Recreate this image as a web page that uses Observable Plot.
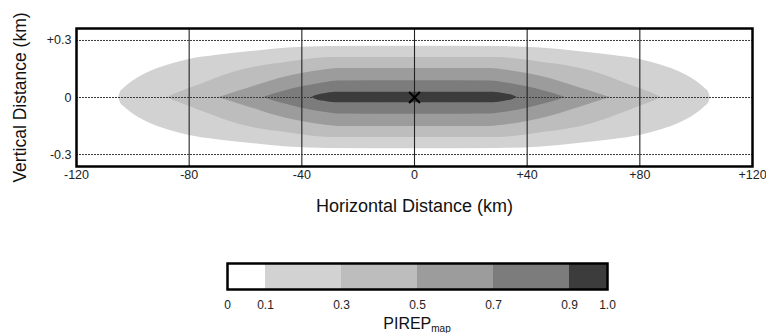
<!DOCTYPE html>
<html>
<head>
<meta charset="utf-8">
<script src="https://cdn.jsdelivr.net/npm/d3@7"></script>
<script src="https://cdn.jsdelivr.net/npm/@observablehq/plot@0.6"></script>
<style>
  html, body { margin: 0; padding: 0; background: #fff; }
  #chart svg { display: block; }
</style>
</head>
<body>
<div id="chart"></div>
<script>
// ---- Data ----
// contour thresholds (PIREP_map) and their fill greys
const levels = [0.1, 0.3, 0.5, 0.7, 0.9];
const bandColors = ["#d2d2d2", "#bdbdbd", "#9c9c9c", "#7c7c7c", "#3c3c3c"];

// half-profiles of each contour (symmetric about x = 0 and y = 0):
// horizontal distance (km) and half-height (km)
const prof01X = [0, 30, 45, 58, 70, 80, 88, 94, 98, 101, 103, 104.5, 105];
const prof01H = [0.27, 0.268, 0.26, 0.242, 0.222, 0.2, 0.168, 0.135, 0.105, 0.075, 0.05, 0.025, 0];
const prof03X = [0, 30, 38, 45, 55, 62, 68, 74, 79, 83, 86, 87.5];
const prof03H = [0.21, 0.21, 0.2, 0.186, 0.165, 0.142, 0.114, 0.08, 0.052, 0.03, 0.012, 0];
const prof05X = [0, 27, 32, 40, 48, 55, 62, 67, 69.5];
const prof05H = [0.153, 0.152, 0.145, 0.126, 0.1, 0.068, 0.035, 0.012, 0];
const prof07X = [0, 27, 32, 40, 47, 51, 53.5];
const prof07H = [0.088, 0.087, 0.078, 0.056, 0.03, 0.013, 0];
const prof09X = [0, 28, 32, 35, 36.5];
const prof09H = [0.028, 0.027, 0.02, 0.01, 0];

// axes
const xTicks = [-120, -80, -40, 0, 40, 80, 120];
const yTicks = [-0.3, 0, 0.3];
const xGrid = [-80, -40, 0, 40, 80];
const yGrid = [-0.3, 0, 0.3];
const marker = [{x: 0, y: 0}];

// colour bar
const barLo = [0, 0.1, 0.3, 0.5, 0.7, 0.9];
const barHi = [0.1, 0.3, 0.5, 0.7, 0.9, 1.0];
const barColors = ["#ffffff", "#d2d2d2", "#bdbdbd", "#9c9c9c", "#7c7c7c", "#3c3c3c"];
const barTicks = [0, 0.1, 0.3, 0.5, 0.7, 0.9, 1.0];

// ---- Build tables ----
const profiles = [
  [prof01X, prof01H], [prof03X, prof03H], [prof05X, prof05H],
  [prof07X, prof07H], [prof09X, prof09H]
];
const bands = [];
profiles.forEach(([xs, hs], i) => {
  const half = xs.map((x, j) => ({x, h: hs[j]}));
  const left = half.slice(1).reverse().map(d => ({x: -d.x, h: d.h}));
  for (const d of left.concat(half)) bands.push({level: levels[i], x: d.x, h: d.h});
});
const bar = barLo.map((lo, i) => ({lo, hi: barHi[i], color: barColors[i]}));

const font = "'Liberation Sans', Arial, Helvetica, sans-serif";
const fmtX = d => d > 0 ? "+" + d : String(d);
const fmtY = d => d > 0 ? "+" + d.toFixed(1) : d === 0 ? "0" : d.toFixed(1);

const main = Plot.plot({
  width: 766,
  height: 230,
  marginLeft: 76,
  marginRight: 14,
  marginTop: 28,
  marginBottom: 64,
  style: {fontFamily: font, fontSize: "12.5px", color: "#222", background: "#fff"},
  x: {domain: [-120, 120]},
  y: {domain: [-0.363, 0.363]},
  color: {type: "ordinal", domain: levels, range: bandColors},
  marks: [
    Plot.areaY(bands, {x: "x", y1: d => -d.h, y2: "h", z: "level", fill: "level", curve: "monotone-x"}),
    Plot.ruleX(xGrid, {stroke: "#222", strokeWidth: 1.1}),
    Plot.ruleY(yGrid, {stroke: "#3a3a3a", strokeWidth: 1, strokeDasharray: "2,1"}),
    Plot.dot(marker, {x: "x", y: "y", symbol: "times", r: 5, stroke: "#000", strokeWidth: 2}),
    Plot.frame({stroke: "#000", strokeWidth: 2.5}),
    Plot.axisX({ticks: xTicks, tickSize: 0, tickPadding: 4, tickFormat: fmtX, label: null, fontSize: 12.5}),
    Plot.axisY({ticks: yTicks, tickSize: 0, tickPadding: 5, tickFormat: fmtY, label: null, fontSize: 12.5}),
    Plot.text(["Horizontal Distance (km)"], {frameAnchor: "bottom", dy: 40, lineAnchor: "middle", textAnchor: "middle", fontSize: 18, fill: "#111"}),
    Plot.text(["Vertical Distance (km)"], {frameAnchor: "left", dx: -56, rotate: -90, textAnchor: "middle", lineAnchor: "middle", fontSize: 17.5, fill: "#111"})
  ]
});

const legend = Plot.plot({
  width: 766,
  height: 103,
  marginLeft: 227,
  marginRight: 159,
  marginTop: 33,
  marginBottom: 44,
  style: {fontFamily: font, fontSize: "12.5px", color: "#222", background: "#fff"},
  x: {domain: [0, 1]},
  marks: [
    Plot.rect(bar, {x1: "lo", x2: "hi", fill: "color"}),
    Plot.frame({stroke: "#000", strokeWidth: 2.5}),
    Plot.axisX({ticks: barTicks, tickSize: 0, tickPadding: 11, tickFormat: d => d === 0 ? "0" : d.toFixed(1), label: null, fontSize: 12})
  ]
});

// subscripted colour-bar title
const lsvg = d3.select(legend);
const t = lsvg.append("text")
  .attr("x", legend.scale("x").apply(0.5))
  .attr("y", 98.5)
  .attr("text-anchor", "middle")
  .attr("font-family", font)
  .attr("font-size", 16)
  .attr("fill", "#111");
t.append("tspan").text("PIREP");
t.append("tspan").attr("font-size", 10).attr("dy", 3).text("map");

document.getElementById("chart").append(main, legend);
</script>
</body>
</html>
